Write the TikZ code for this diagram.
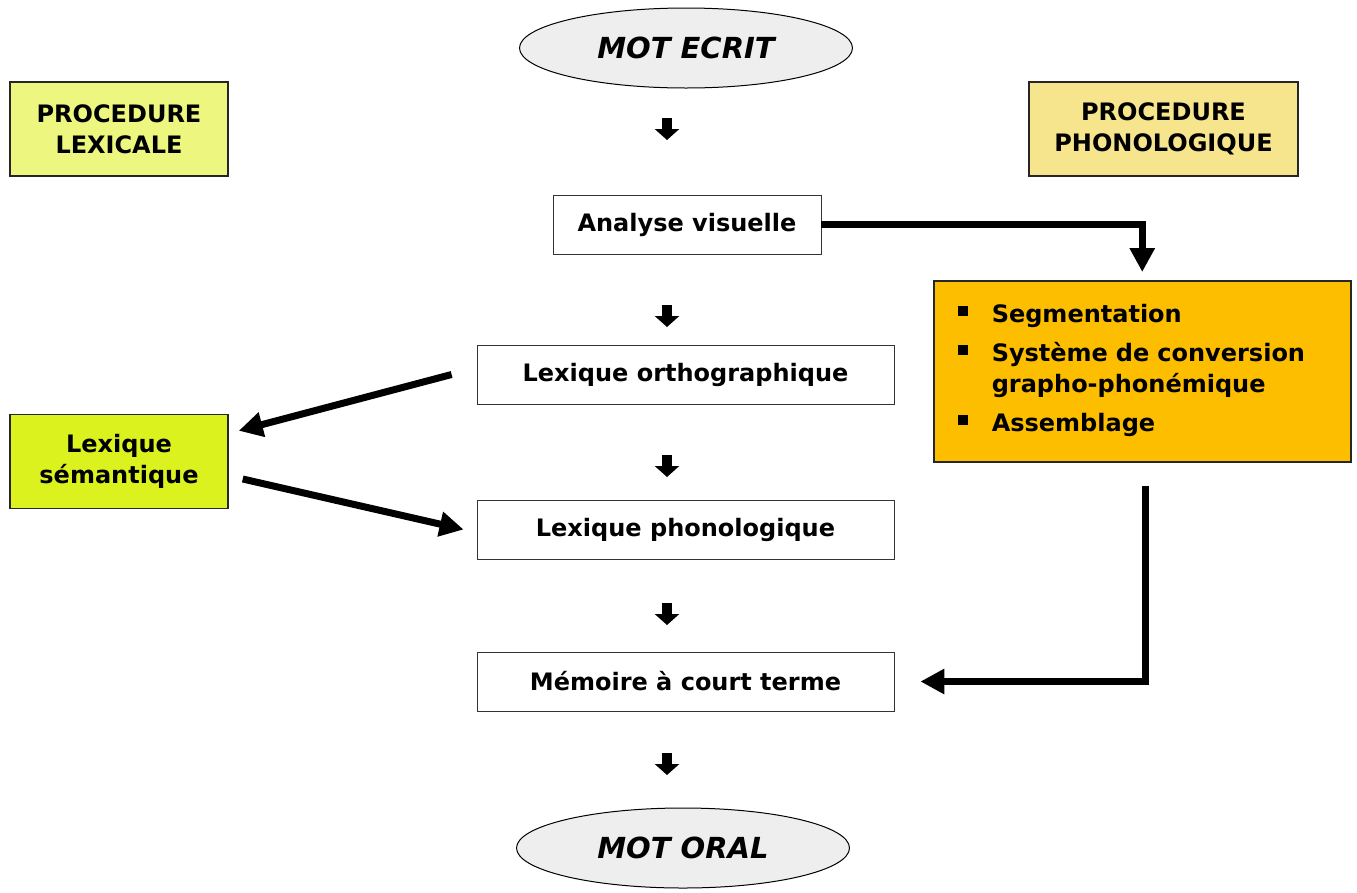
\documentclass[tikz,border=0pt]{standalone}
\usepackage{fontspec}
\setmainfont{DejaVu Sans}
\usepackage{xcolor}
\usepackage{tikz}
\usetikzlibrary{shapes.geometric,arrows.meta}

\definecolor{lexproc}{HTML}{EDF780}
\definecolor{phonproc}{HTML}{F6E58D}
\definecolor{semfill}{HTML}{DCF21E}
\definecolor{gpfill}{HTML}{FDBE00}
\definecolor{motfill}{HTML}{EEEEEE}

\begin{document}
\begin{tikzpicture}[
    x=1pt, y=-1pt,
    every node/.style={font=\fontsize{24}{31}\selectfont\bfseries, align=center, inner sep=0pt},
    mot/.style={draw, ellipse, fill=motfill, line width=1pt, minimum width=333pt, minimum height=80pt,
        font=\fontsize{29}{35}\selectfont\bfseries\itshape},
    stage/.style={draw=black!80, line width=0.8pt, rectangle, fill=white, minimum height=59pt},
    proc/.style={draw=black!85, line width=1.5pt, rectangle, minimum width=218pt, minimum height=94pt},
    smallarr/.style={line width=10pt, -{Triangle[length=11pt,width=24pt]}},
    bigarr/.style={line width=7pt, -{Triangle[length=24pt,width=24pt]}}
]
\useasboundingbox (0,0) rectangle (1357,892);

\node[mot] (ecrit) at (686,48) {MOT ECRIT};
\node[mot] (oral) at (683,848) {MOT ORAL};

\node[proc, fill=lexproc] (lexical) at (119,129) {PROCEDURE\\LEXICALE};
\node[proc, fill=phonproc, minimum width=269pt] (phonol) at (1163.5,129) {PROCEDURE\\PHONOLOGIQUE};
\node[proc, fill=semfill] (sem) at (119,461.5) {Lexique\\sémantique};

\node[stage, minimum width=268pt] (analyse) at (687,224.5) {Analyse visuelle};
\node[stage, minimum width=417pt] (ortho) at (685.5,374.5) {Lexique orthographique};
\node[stage, minimum width=417pt] (phono) at (685.5,529.5) {Lexique phonologique};
\node[stage, minimum width=417pt] (memoire) at (685.5,681.5) {Mémoire à court terme};

\node[draw=black!85, line width=1.5pt, fill=gpfill, anchor=north west, minimum width=417pt,
    minimum height=181pt, inner xsep=24pt, text width=369pt, align=left] (conv) at (933,280) {%
    \begin{tabular}{@{}l@{\hspace{24pt}}l@{}}
    \raisebox{7pt}{\rule{10pt}{10pt}} & Segmentation\\[8pt]
    \raisebox{7pt}{\rule{10pt}{10pt}} & Système de conversion\\
     & grapho-phonémique\\[8pt]
    \raisebox{7pt}{\rule{10pt}{10pt}} & Assemblage
    \end{tabular}};

% main line
\foreach \y in {118,305,455,603,753}
    \draw[smallarr] (667,\y) -- ++(0,22);

% links
\draw[bigarr, shorten >=8pt] (analyse.east) -| (conv.north);
\draw[bigarr] ([xshift=-25pt]ortho.west) -- ([xshift=10pt,yshift=-17pt]sem.north east);
\draw[bigarr] ([xshift=14pt,yshift=-17.5pt]sem.east) -- ([xshift=-13pt]phono.west);
\draw[bigarr] ([xshift=3.5pt,yshift=-23pt]conv.south) |- ([xshift=26pt]memoire.east);
\end{tikzpicture}
\end{document}
